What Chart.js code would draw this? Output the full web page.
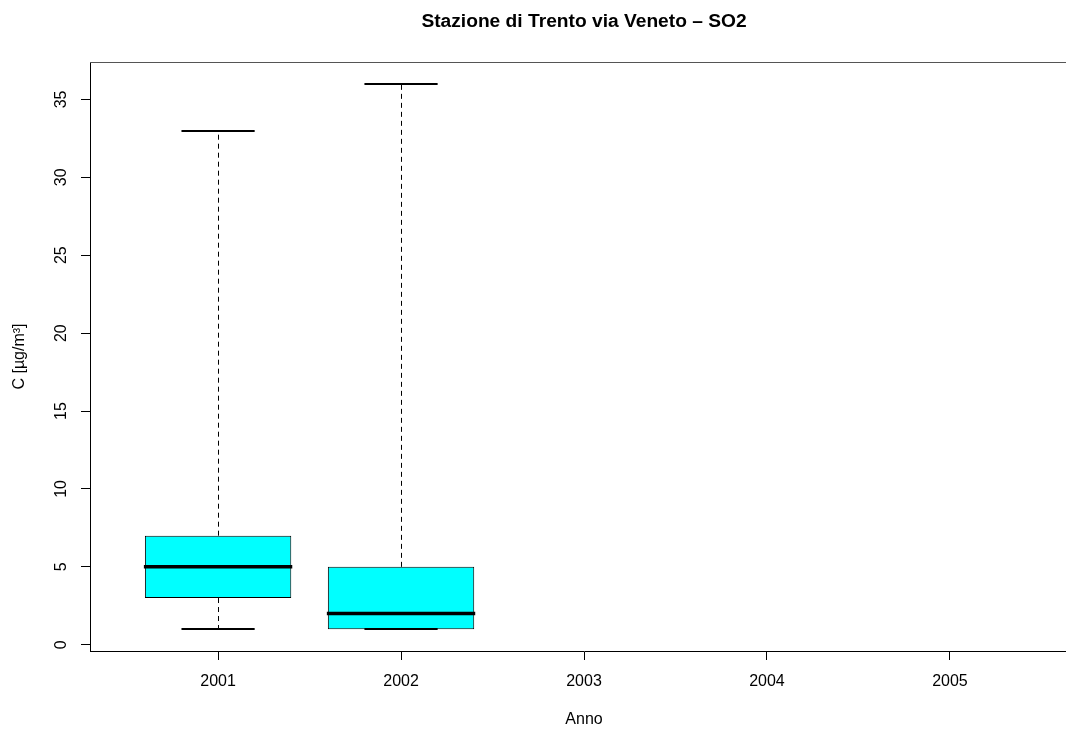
<!DOCTYPE html>
<html>
<head>
<meta charset="utf-8">
<script src="https://cdn.jsdelivr.net/npm/chart.js@4"></script>
<style>
html,body{margin:0;padding:0;background:#fff;overflow:hidden;width:1066px;height:729px;}
#wrap{position:absolute;left:0;top:0;width:1078px;height:729px;}
canvas{display:block;}
</style>
</head>
<body>
<div id="wrap"><canvas id="c" width="1078" height="729"></canvas></div>
<script>
// ---- data ----
const years = ['2001', '2002', '2003', '2004', '2005'];
const whiskerLow  = [1, 1, null, null, null];
const quart1      = [3, 1, null, null, null];
const medians     = [5, 2, null, null, null];
const quart3      = [7, 5, null, null, null];
const whiskerHigh = [33, 36, null, null, null];
const yTicks = [0, 5, 10, 15, 20, 25, 30, 35];
const titleText = 'Stazione di Trento via Veneto \u2013 SO2';
const xTitle = 'Anno';
const yTitle = 'C [\u00b5g/m\u00b3]';

const FONT = "'Liberation Sans', Arial, Helvetica, sans-serif";

const boxData = [];
years.forEach((y, i) => {
  if (quart1[i] != null) boxData.push({x: i + 1, y: [quart1[i], quart3[i]]});
});

const boxExtras = {
  id: 'boxExtras',
  afterDatasetsDraw(chart) {
    const {ctx, scales: {x, y}, chartArea} = chart;
    const meta = chart.getDatasetMeta(0);
    ctx.save();
    boxData.forEach((d, k) => {
      const i = d.x - 1;
      const el = meta.data[k];
      const cx = el.x;
      const half = el.width / 2;
      const capHalf = half / 2;
      const pLow = y.getPixelForValue(whiskerLow[i]);
      const pHigh = y.getPixelForValue(whiskerHigh[i]);
      const pQ1 = y.getPixelForValue(quart1[i]);
      const pQ3 = y.getPixelForValue(quart3[i]);
      const pMed = y.getPixelForValue(medians[i]);
      const xc = Math.round(cx) + 0.5;
      // dashed whiskers
      ctx.strokeStyle = '#000';
      ctx.lineWidth = 1;
      ctx.setLineDash([5, 4]);
      ctx.beginPath();
      ctx.moveTo(xc, pQ3); ctx.lineTo(xc, pHigh);
      if (pLow > pQ1) { ctx.moveTo(xc, pQ1); ctx.lineTo(xc, pLow); }
      ctx.stroke();
      ctx.setLineDash([]);
      // staples
      ctx.lineWidth = 2;
      ctx.beginPath();
      ctx.moveTo(cx - capHalf, Math.round(pHigh)); ctx.lineTo(cx + capHalf, Math.round(pHigh));
      ctx.moveTo(cx - capHalf, Math.round(pLow)); ctx.lineTo(cx + capHalf, Math.round(pLow));
      ctx.stroke();
      // median
      ctx.lineWidth = 3.5;
      ctx.beginPath();
      ctx.moveTo(cx - half - 1, pMed); ctx.lineTo(cx + half + 1, pMed);
      ctx.stroke();
    });
    // top border of plot box
    ctx.lineWidth = 1;
    ctx.strokeStyle = '#555';
    ctx.beginPath();
    ctx.moveTo(chartArea.left, Math.round(chartArea.top) + 0.5);
    ctx.lineTo(chartArea.right, Math.round(chartArea.top) + 0.5);
    ctx.stroke();
    ctx.restore();
  }
};

new Chart(document.getElementById('c'), {
  type: 'bar',
  data: {
    datasets: [{
      data: boxData,
      backgroundColor: '#00ffff',
      borderColor: '#000',
      borderWidth: 1,
      borderSkipped: false,
      barPercentage: 1.0,
      categoryPercentage: 0.8
    }]
  },
  options: {
    responsive: false,
    animation: false,
    devicePixelRatio: 1,
    layout: {padding: {left: 0, right: 0, top: 0, bottom: 0}},
    plugins: {
      legend: {display: false},
      tooltip: {enabled: false},
      title: {
        display: true,
        text: titleText,
        fullSize: false,
        color: '#000',
        font: {family: FONT, size: 19.2, weight: 'bold', lineHeight: 1.2},
        padding: {top: 10.5, bottom: 28.46}
      }
    },
    scales: {
      x: {
        type: 'linear',
        offset: false,
        min: 0.3,
        max: 5.7,
        afterBuildTicks: s => { s.ticks = years.map((_, i) => ({value: i + 1})); },
        afterFit: s => { s.height = 78; },
        border: {display: true, color: '#000', width: 1},
        grid: {offset: false, drawOnChartArea: false, drawTicks: true, tickLength: 9, tickColor: '#000', tickWidth: 1},
        ticks: {
          color: '#000', font: {family: FONT, size: 16}, padding: 12,
          autoSkip: false, maxRotation: 0, minRotation: 0,
          callback: v => years[v - 1]
        },
        title: {display: true, text: xTitle, color: '#000', font: {family: FONT, size: 16}, padding: {top: 0, bottom: 0}}
      },
      y: {
        type: 'linear',
        min: -0.4,
        max: 37.4,
        afterBuildTicks: s => { s.ticks = yTicks.map(v => ({value: v})); },
        afterFit: s => { s.width = 90; },
        border: {display: true, color: '#000', width: 1},
        grid: {drawOnChartArea: false, drawTicks: true, tickLength: 9, tickColor: '#000', tickWidth: 1},
        ticks: {
          color: '#000', font: {family: FONT, size: 16}, padding: 11,
          minRotation: 90, maxRotation: 90, crossAlign: 'center'
        },
        title: {display: true, text: yTitle, color: '#000', font: {family: FONT, size: 16}, padding: {top: 10, bottom: 0}}
      }
    }
  },
  plugins: [boxExtras]
});
</script>
</body>
</html>
